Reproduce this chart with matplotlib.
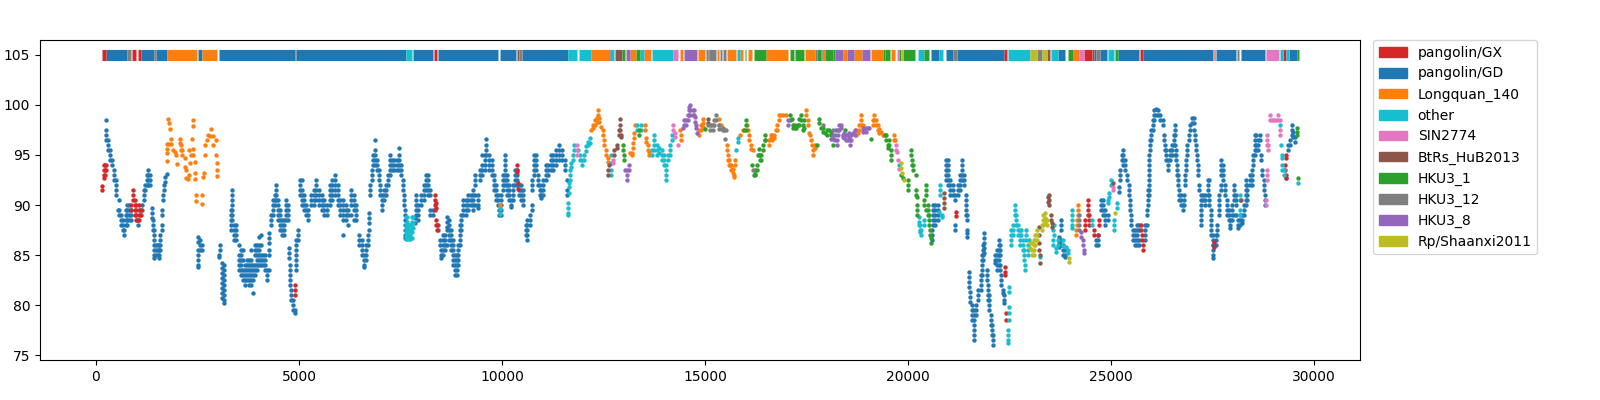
import matplotlib

matplotlib.use("Agg")

import matplotlib.pyplot as plt
from matplotlib.patches import Patch

# identity, one entry per position: (position, [percent, ...])
gd_columns = [
    (254, [98.5, 97.5, 97, 96.5]), (304, [96.5, 96, 95.5]), (345, [95.5, 95, 94.5]), (393, [94.5, 94]),
    (442, [93.5, 93, 92.5]), (491, [92.5, 92, 91.5, 91]), (540, [89.5]), (573, [90.5, 89.5, 89]),
    (614, [89, 88.5, 88]), (655, [88.5, 88, 87.5]), (696, [87.5, 87]), (737, [89.5, 89, 88.5, 88]),
    (777, [90, 89.5, 89, 88.5, 88]), (819, [90, 89.5, 89, 88.5]), (860, [89.5, 89, 88.5]), (1000, [88.5]),
    (1024, [88.5, 88]), (1081, [89, 89.5]), (1130, [90, 89.5]), (1180, [91.5, 91, 90.5]), (1212, [92, 91.5]),
    (1253, [93, 92.5, 92]), (1286, [93.5, 93, 92.5, 92]), (1327, [93, 92.5, 92]), (1376, [89.7, 89.2, 88.7]),
    (1401, [88.5, 88, 87.5]), (1426, [87.5, 87, 86.5]), (1442, [86, 85.5, 85, 84.7]), (1491, [86, 85.5, 85]),
    (1524, [86, 85.5, 85]), (1557, [86, 85.5, 85, 84.7]), (1590, [87, 86.5, 86, 85.5]), (1615, [89.5, 89, 88, 87.5]),
    (1640, [91, 90.5]), (1672, [92, 91.5]), (1705, [92.8, 92.3]), (1738, [93.1]),
    (2510, [86.8, 86.3, 85.5, 85, 84.5, 84, 83.8]), (2560, [86.5, 86, 85.5]), (2616, [86, 85.5]),
    (3049, [86, 85.5]), (3024, [85, 84.8]), (3100, [84.2, 83.7, 83.2, 82.7, 82.2, 81.7, 81.2, 80.7]),
    (3150, [84, 83.5, 83, 82.5, 82, 81.5, 81, 80.5, 80.2]), (3314, [89.5, 89, 88.5, 88, 87.5]),
    (3347, [91.5, 91, 90.5, 90, 89.5, 89, 88.5]), (3388, [88, 87.5, 87, 86.5]), (3445, [88, 87.5, 87, 86.5]),
    (3519, [86, 85, 84.5, 84, 83.5]), (3568, [85.5, 85, 84.5, 84, 83.5, 83]), (3618, [85.5, 84.5, 83.5, 83, 82.5]),
    (3667, [84, 83.5, 83, 82.5, 82]), (3717, [84.5, 84, 83.5, 83, 82.5]), (3774, [84.5, 84, 83.5, 83, 82.5, 82]),
    (3823, [85.5, 84.5, 84, 83.5, 83, 82.5, 82]), (3872, [84, 83.5, 83, 82.5, 81.2]), (3921, [86, 85.5, 85, 84, 83.5, 83]),
    (3970, [86, 85.5, 85, 84.5, 84, 83.5]), (4020, [86.8, 86, 85.5, 85, 84.5, 84]), (4069, [87, 86, 85, 84.5, 84]),
    (4118, [85, 84.5, 84]), (4167, [85, 84.5, 84, 83.5]), (4216, [83.5, 83, 82.5]), (4265, [87.2, 86.7, 86.2, 85.5, 85, 83.5]),
    (4322, [89, 88.5, 88]), (4363, [90.5, 90, 89.5, 89]), (4404, [91, 90.5, 90]), (4437, [92, 91.5, 91, 90.5]),
    (4478, [90.5, 90, 89.5, 89, 88.5]), (4527, [89.5, 89, 88.5, 88, 87.5]), (4576, [88.5, 88, 87.5, 87]),
    (4626, [88.5, 88, 87.5, 87]), (4675, [90.5, 90, 89.5, 89, 88.5]), (4724, [90, 89.5, 89, 88.5]),
    (4757, [85.7, 85.2, 84.7]), (4781, [84, 83.5, 83, 82.5, 82]), (4814, [81.5, 81, 80.5]), (4855, [80.5, 80, 79.5]),
    (4896, [79.5, 79.2]), (4937, [83.5, 84, 84.5, 85, 85.5, 86, 86.5]), (4978, [87.5, 87, 86.5]),
    (5036, [92.5, 92, 91.5, 91]), (5085, [92.5, 91.5, 91, 90.5, 90]), (5126, [91, 90.5, 90, 89.5]), (5183, [90, 89.5, 89]),
    (5233, [89.5, 89, 88.5]), (5307, [91, 90.5, 90]), (5365, [91.5, 91, 90.5, 90]), (5431, [92.5, 92, 91.5, 91, 90.5]),
    (5496, [91.5, 91, 90.5, 90]), (5562, [91, 90.5, 90, 89.5]), (5628, [90.5, 90, 89.5, 89]), (5693, [90, 89.5, 89]),
    (5759, [92, 91.5, 91, 90.5, 90]), (5824, [92.5, 92, 91.5, 91, 90.5]), (5890, [93, 92.5, 92, 91.5, 91]),
    (5955, [92, 91.5, 91, 90.5, 90]), (6021, [90.5, 90, 89.5, 89]), (6086, [90.5, 90, 89.5, 89, 88.5, 87]),
    (6152, [90, 89.5, 89, 88.5]), (6217, [89.5, 89, 88]), (6283, [91.5, 91, 90.5, 90, 89]), (6348, [91, 90.5, 90, 89.5, 88.5]),
    (6414, [90, 89.5, 89, 88.5]), (6479, [87, 86.5, 86]), (6545, [86.5, 86, 85.5, 85]), (6594, [85, 84.5, 84, 83.8]),
    (6660, [86, 85.5, 85, 84.5]), (6700, [87, 86.5, 86]), (6725, [89.2, 88.7, 88.2, 87.5]), (6757, [92, 91.5, 91]),
    (6790, [93.5, 93, 92.5]), (6823, [95, 94.5, 94]), (6872, [96.5, 95.5, 95, 94.5, 94]), (6921, [94.5, 94, 93.5]),
    (6970, [93.5, 93, 92.5]), (7003, [92, 91.5, 91]), (7044, [91, 90.5, 90, 89.5]), (7102, [91.5, 91, 90.5]),
    (7151, [92, 91.5, 91]), (7192, [93, 92.5, 92]), (7233, [95, 94.5, 94, 93.5, 93]), (7290, [94.5, 94, 93.5]),
    (7348, [94.5, 94, 93.5]), (7405, [94.5, 94, 93.5]), (7463, [95.7, 95, 94.5, 94, 93.5]), (7520, [94, 93.5, 93]),
    (7561, [92.5, 92, 91.5]), (7586, [91, 90.5, 90]), (7602, [89.5, 89, 88.5]), (7618, [88, 87.5, 87, 86.7]),
    (7848, [88.7, 88.2]), (7889, [91, 90.5, 90, 89.5, 89]), (7938, [90, 89.5, 89, 88.5]), (8012, [91, 90.5, 90]),
    (8069, [92, 91.5, 91, 90.5]), (8119, [93, 92.5, 92, 91.5]), (8168, [93, 92.5, 92, 91.5, 91]), (8233, [91.5, 91, 89.5, 89]),
    (8299, [89.5, 89]), (8430, [88, 87.5]), (8463, [86.5, 86]), (8496, [85.5, 85, 84.7]), (8545, [87, 86.5, 86, 85.5, 85]),
    (8594, [87, 86.5, 86, 85.5]), (8643, [88.8, 88.3, 87.8, 87.5, 86]), (8693, [88.5, 88, 87.5, 87, 86.5]),
    (8742, [87.5, 87, 86.5, 86, 85.5]), (8791, [86.5, 86, 85.5, 85, 84.5, 84]), (8832, [85, 84.5, 84, 83.5, 83]),
    (8881, [85, 84.5, 84, 83.5, 83]), (8922, [86, 85.5, 85, 84.5, 84]), (8955, [88, 87.5, 87, 86.5, 86]),
    (8988, [89, 88.5, 88, 87.5]), (9037, [90.5, 90, 89.5, 89]), (9103, [90.5, 90, 89.5, 89]), (9168, [91, 90.5, 90, 89.5]),
    (9234, [91, 90.5, 90]), (9283, [91.5, 91, 90.5, 90, 89.5]), (9340, [93, 92.5, 92, 91, 90]), (9398, [91, 90.5, 90, 89.7]),
    (9455, [93.5, 93, 92.5]), (9513, [95, 94, 93.5, 93]), (9570, [95, 94.5, 94, 93.5]), (9611, [96.6, 96, 95.5, 95]),
    (9676, [95, 94.5, 94, 93.5]), (9742, [94.5, 94, 93.5, 93]), (9791, [93, 92.5, 92, 91.5]), (9841, [92, 91.5, 91, 90.5]),
    (9890, [91, 90.5, 90]), (9923, [89.5, 89]), (9980, [91, 90.5, 90, 89.5, 89]), (10021, [93, 92.5, 92, 91.5]),
    (10070, [95, 94.5, 94, 93.5, 93, 92.5, 92]), (10119, [93, 92.5, 92, 91.5, 91]), (10168, [92, 91.5, 91, 90.5]),
    (10226, [90.5, 90, 89.8]), (10275, [92, 91.5, 91, 90.5]), (10324, [93.5, 93, 92.5, 92]), (10365, [93.5, 93, 92.5, 92]),
    (10415, [92, 91.5, 91]), (10464, [92, 91.5, 91, 90.5]), (10513, [91.5, 91, 90.5, 90]), (10579, [87, 87.5, 88]),
    (10620, [88.5, 88, 87.5, 87, 86.5]), (10677, [89, 88.5, 88]), (10726, [90, 89.5]), (10743, [92.5, 92, 91.5]),
    (10776, [95, 94.5, 94, 93.5, 93]), (10825, [95, 94.5, 94, 93.5]), (10874, [93, 92.5, 92]), (10923, [92, 91.5, 91]),
    (10972, [91.5, 91, 90.7]), (11021, [92.5, 92, 91.5, 91]), (11071, [94, 93.5, 93, 92.5]), (11136, [94, 93.5, 93]),
    (11202, [95, 94.5, 94, 93.5]), (11267, [95, 94.5, 94, 93.5]), (11333, [95.5, 95, 94.5, 94]), (11415, [96, 95.5, 95, 94.5]),
    (11481, [95.5, 95, 94.5]), (11546, [94.5, 94, 93.5]), (11595, [92.5, 91.5, 91]),
    (20577, [87.5, 87, 86.5]), (20618, [90, 89.5, 89, 88.5, 88]), (20668, [90, 89.5, 89, 88.5, 88]), (20725, [90, 89.5, 89, 88.5]),
    (20930, [94.5, 94, 93.5, 93, 92.5]), (20971, [94.5, 94, 93.5, 93, 92.5, 92]), (21028, [92.5, 92, 91.5, 91]),
    (21094, [92, 91.5, 91]), (21143, [91, 90.5, 88, 87.5]), (21217, [92, 91.5, 91]), (21274, [93, 92.5, 92, 91.5]),
    (21332, [94.5, 94, 93.5, 93, 92.5]), (21381, [93, 92.5, 92]), (21422, [91, 90.5, 90, 89.5, 89]), (21447, [89, 88.5]),
    (21455, [87.5, 87.2, 86.8]), (21488, [83.3, 82.8, 82.3, 81.8]), (21520, [81.3, 80.8, 80.3]), (21570, [80, 79.5, 79, 78.5]),
    (21611, [79.5, 79, 78.5, 78, 77.5, 77, 76.5]), (21668, [80, 79.5, 79]), (21717, [81.5, 81, 80.5]), (21791, [83, 82.5, 82, 81.5]),
    (21816, [85, 84.5, 84, 83.5, 83]), (21849, [86, 85.5, 85, 84.5]), (21873, [87.2, 86.7, 86.2, 85.7, 85.2]),
    (21930, [83.5, 83, 82.5]), (21963, [82, 81.5, 81, 80.5]), (21996, [81, 80.5, 80, 79.5]), (22037, [79, 78.5, 78]),
    (22062, [78, 77.5, 77]), (22086, [77, 76.5, 76]), (22144, [85, 84.5, 84.2]), (22185, [85.5, 85, 84.5, 84, 83.5]),
    (22226, [86.5, 86, 85.5, 85, 84.5, 84]), (22267, [86, 85.5, 85, 84, 83.5]), (22291, [83, 82.5, 82]), (22324, [81.5, 81.2]),
    (22373, [81, 80.5, 80.2]), (23723, [86.8, 86.3, 85.8]), (23764, [88.5, 88, 87.5, 86.5, 86]), (23805, [86, 85.5, 85]),
    (23862, [85.5, 85, 84.8]), (24625, [86.5, 86]), (24666, [87, 86.5, 86]), (24748, [90.5, 90, 89.5]), (24805, [90.5, 90, 89.5, 89]),
    (24855, [89.5, 89, 88.5, 88]), (24912, [89, 88.5]), (25183, [91.8, 91.3]), (25215, [93.5, 93, 92.5]), (25265, [95, 94.5]),
    (25297, [95.5, 95, 94.5, 94]), (25347, [94.5, 94, 93.5]), (25396, [93, 92.5]), (25429, [92, 91.5, 91]), (25461, [90.5, 90, 89.5]),
    (25494, [89, 88.5, 88]), (25527, [87.5, 87, 86.5]), (25576, [87.5, 87, 86.5, 86]), (25625, [88, 87.5, 87, 86.5, 86]),
    (25691, [88, 87.5, 86.5, 86]), (25822, [88, 87.5, 87, 86.5]), (25871, [89.5, 89, 88]), (25896, [91.5, 91, 90.5, 90]),
    (25920, [93, 92.5, 92, 91.5, 91]), (25937, [95, 94.5, 94, 93.5]), (25953, [96.5, 96, 95.5]), (25986, [97.5, 97, 96.5]),
    (26019, [98.5, 98, 97.5]), (26060, [99.5, 99, 98.5]), (26101, [99.6, 99]), (26150, [99.5, 99]), (26199, [99, 98.5]),
    (26265, [98.5, 98]), (26290, [97, 96.5]), (26323, [96, 95.5]), (26347, [95.5, 95, 94.5]), (26388, [94.5, 94, 93.5]),
    (26446, [95.5, 95, 94.5]), (26495, [96, 95.5, 95]), (26536, [97, 96.5, 96]), (26560, [98, 97.5, 97, 96, 95]),
    (26593, [95.5, 95, 94.5]), (26617, [94, 93.5, 93]), (26642, [93, 92.5, 92]), (26675, [91.5, 91, 90.5]), (26716, [91, 90.5, 90]),
    (26757, [90, 89.5]), (26798, [91, 90.5, 90]), (26823, [93, 92.5, 92]), (26847, [94.5, 94, 93.5]), (26872, [96, 95.5, 95]),
    (26905, [97, 96.5]), (26938, [98, 97.5]), (26987, [98.7, 98.2]), (27036, [98.7, 98.2, 97.5]), (27060, [97, 96.5]),
    (27085, [96, 95.5]), (27110, [95, 94.5]), (27142, [94, 93.5, 93]), (27167, [92, 91.5]), (27200, [91, 90.5, 90, 89.5]),
    (27224, [89, 88.5, 88]), (27265, [91, 90.5]), (27315, [91, 90.5, 90]), (27372, [92.5, 92, 91.5, 91]), (27413, [92.5, 91, 90.5, 90]),
    (27446, [89.5, 89, 88.5]), (27470, [88, 87.5, 87]), (27495, [87, 86.5, 86]), (27519, [86, 85.5, 85, 84.7]), (27577, [87, 86.5, 86]),
    (27610, [88, 87.5, 87]), (27643, [90, 89.5, 89]), (27667, [91, 90.5]), (27692, [92, 91.5]), (27716, [94.5, 94, 93.5, 93]),
    (27757, [94, 93.5, 93, 92.5]), (27807, [92, 91.5, 91]), (27848, [90.5, 90, 89.5, 89]), (27889, [89.5, 89, 88.5]),
    (27938, [88.5, 88, 87.7]), (27987, [90, 89.5, 89, 88.5]), (28028, [92, 91.5, 91, 90.5, 89]), (28069, [91, 90.5, 90, 89]),
    (28118, [88.5, 88, 87.7]), (28167, [89, 88.5, 88]), (28233, [89, 88.5, 88.2]), (28274, [90, 89.5, 89]),
    (28315, [92.5, 92, 91.5, 91, 90.5, 90]), (28356, [92, 91.5, 91, 90.5]), (28414, [93, 92.5, 92]), (28463, [93.5, 93, 92.5, 92]),
    (28504, [95, 94.5, 94]), (28545, [97, 96.5, 96, 95.5, 95]), (28577, [97, 96, 95.5]), (28627, [96.5, 96, 95.5]), (28660, [97, 96.5]),
    (28684, [95, 94.5]), (28725, [93.5, 93]), (28758, [92.5, 92, 91.5]), (28782, [91, 90.5, 90]), (29315, [92.7]),
    (29365, [96, 95.5]), (29397, [96.5, 96]), (29447, [98, 97.5, 97]), (29479, [97.3, 96.8]), (29529, [96.8, 96.3]),
]
gx_columns = [
    (138, [91.9, 91.5]), (190, [94, 93.5, 93, 92.7]), (215, [94, 93.5, 93]), (240, [94, 93.5]),
    (917, [91.5, 91, 90.5]), (876, [90, 89.5]), (958, [90.5, 90, 89.5, 89]), (999, [90, 89.5, 89, 88.5]),
    (1056, [90, 89.5, 89, 88.5]), (1106, [89.5, 89]), (4910, [82, 81.5, 81]), (8348, [91, 90.5, 90, 89.5]),
    (8365, [90.2, 89.7]), (8375, [88.5, 88]), (8400, [88, 87.5]), (10362, [94, 93.5]), (10380, [93.3]), (10395, [92.2, 91.6]),
    (21176, [89.3, 88.9]), (22390, [83.8, 83.3, 83]), (22422, [79.2, 78.5]), (24363, [88.5, 88, 87.5]), (24420, [90.5, 90, 89.5, 89]),
    (24461, [89, 88.5, 88]), (24584, [87.5, 87]), (24666, [87]), (24707, [88.5, 88]), (25732, [88, 87.5]), (25748, [87, 86.5]),
    (25789, [86, 85.5]), (27536, [86.3, 85.8]), (29282, [94, 93.5]), (29299, [93, 92.7]), (29315, [95, 94.7]),
]
longquan_columns = [
    (1778, [98.6]), (1803, [98.2]), (1835, [97.6]), (1860, [96.6, 96.1]), (1753, [96.1, 95.6, 95.2, 94.4]), (1800, [96.1]),
    (1901, [95.5]), (1935, [95.3]), (1967, [95]), (2000, [94.1]), (2065, [96.6, 96.2]), (2090, [96, 95.5]), (2131, [95.5, 95]),
    (2188, [94.7, 93.8]), (2213, [93.5, 92.7]), (2260, [92.6]), (2393, [98.5, 97.9, 95.6]), (2377, [96.6]), (2352, [95]),
    (2400, [95]), (2434, [94.3]), (2450, [93.2, 92.6]), (2475, [91, 90.4]), (2623, [91, 90.1]), (2655, [93.2]), (2640, [92.8]),
    (2680, [95]), (2697, [96]), (2740, [96.5]), (2762, [97]), (2836, [97.6]), (2810, [96.9]), (2885, [96.9, 96]), (2951, [96.5, 95]),
    (2984, [94.2, 93.5]), (2992, [92.9]), (2290, [93, 95.5]), (2310, [94.2]), (9947, [90]),
    (12194, [97.5]), (12235, [98, 97.7]), (12284, [98.5, 98]), (12333, [98.7, 98.3]), (12366, [99.5, 99]), (12399, [98.7, 98.3]),
    (12440, [97.8]), (12481, [97.5, 97]), (12522, [96.5, 96]), (12563, [95.5, 95]), (12604, [94.7, 94.3]), (13153, [95.2]),
    (13202, [95.2, 95]), (13235, [96.2, 95.7]), (13243, [97.2, 96.7]), (13268, [98]), (13514, [98, 97.5]), (13547, [96.7, 96.3]),
    (13596, [96, 95.5]), (13629, [95.3, 95]), (14383, [97.5]), (14410, [97, 96.5]), (14862, [97.5, 97]), (14903, [98, 97.5]),
    (14950, [97.8]), (14960, [98.6, 98.2]), (15338, [98.6, 98]), (15395, [98]), (15534, [96, 95.5]), (15575, [95, 94.5]),
    (15600, [94.5, 94]), (15620, [94]), (15641, [94, 93.5]), (15682, [93.6, 93.2]), (15707, [93, 92.8]), (15739, [94.5, 94]),
    (15862, [97]), (15928, [97.5]), (16030, [98]), (16051, [97.5]), (16092, [97, 96.5]), (16133, [96, 95.6]), (16170, [95.5]),
    (16568, [96.5, 96]), (16625, [97, 96.7]), (16660, [97, 96.5]), (16707, [97, 96.7]), (16740, [97.5]), (16764, [98, 97.5]),
    (16814, [99, 98.5]), (16871, [99]), (16928, [99]), (16994, [99]), (17486, [99.5, 99]), (17527, [98.5]), (17540, [98]),
    (17568, [97.2]), (17590, [97]), (17609, [96.5]), (17640, [96]), (17666, [95.5, 95]), (17716, [96, 95.7]), (18720, [97.5, 97]),
    (18757, [97.2]), (18798, [97.5, 98]), (18839, [99, 98.5, 98]), (18880, [98, 97.5]), (19130, [98.5, 98]), (19167, [99, 98.5]),
    (19208, [98.5, 98]), (19250, [98, 97.5]), (19290, [97.6, 97.2]), (19340, [97.3]), (19372, [97]), (19400, [97]),
    (19659, [97, 96.5]), (19684, [96.5]), (24174, [90, 89.5, 89]), (24149, [88.5, 88]), (24133, [87.5, 87]),
]
other_columns = [
    (7627, [88.8, 88, 87.5, 87, 86.6]), (7668, [88.8, 88.3, 87.8, 87.3, 86.8, 86.6]), (7709, [88, 87.5, 87, 86.6]),
    (7741, [88, 87.5, 87, 86.6]), (7774, [88.8, 88.3, 87.8, 87.3, 86.7]), (7807, [88.8, 88.2, 87.7]), (9939, [89.6, 89.1]),
    (11620, [90.2, 89.7, 89.2, 89]), (11645, [92.2, 91.8, 91.2]), (11677, [93.5, 93, 92.5]), (11710, [94.2, 93.8]),
    (11743, [95, 94.5]), (11784, [96, 95.5]), (11866, [95.5]), (11923, [95, 94.5]), (11972, [94.5, 94]), (12021, [95, 94.5]),
    (12071, [95.9, 95.4]), (12120, [96.3, 96]), (12170, [96.7, 96.2]), (12686, [93, 93.5, 94.2, 95]), (13317, [98, 97.5]),
    (13424, [98, 97.5]), (13695, [95.5, 95]), (13752, [97, 96.5, 96, 95.5]), (13818, [96, 95.5, 95]), (13875, [95.7, 95.2]),
    (13941, [95.5, 95, 94.5]), (13998, [95, 94.5, 94]), (14039, [94, 93.5, 93, 92.5]), (14080, [95, 94.5]), (14137, [96, 95.5, 95]),
    (14178, [97, 96.5]), (15764, [95.5]), (15805, [96.7, 96.3]), (19766, [94]), (20258, [88.8, 88.3, 88]), (20290, [88, 87.5, 87.3]),
    (20315, [87.5, 87]), (20381, [88.5, 88]), (20782, [92, 91.5, 91]), (20766, [89.3]), (20831, [89, 88.8]),
    (22477, [79.8, 79.2, 78.5]), (22452, [77.5, 77, 76.5, 76.2]), (22493, [81.8, 81.3]), (22534, [87.5, 87, 86.5, 86]),
    (22575, [88, 87.5, 87]), (22632, [90, 89.5, 89]), (22657, [89, 88.5, 88]), (22714, [88, 87.5, 87]), (22755, [87.5, 87, 86.5, 86]),
    (22780, [87.5, 87]), (22821, [86.5, 86, 85.5]), (22854, [85.5, 85, 84.5]), (22878, [84, 83.5]), (22903, [87.5, 87, 86.5]),
    (22944, [86, 85.5, 85]), (22985, [86.5]), (23247, [84.8]), (23559, [88, 87.5]), (23600, [88, 87]), (23575, [86.5, 86]),
    (23641, [85.7, 85.3]), (23682, [86.5, 86]), (23805, [86.5, 86]), (23928, [85.5, 85.2]), (23887, [85.8]),
    (24035, [89.5, 89, 88.5, 88, 87.7]), (24527, [88.5, 88]), (24994, [92.5, 92]), (24953, [91.2, 90.8]), (24912, [90.5, 90.2]),
    (25133, [90.2, 89.7]), (25076, [88.5, 88, 87.5]), (28167, [91, 90.5, 89.5, 89]), (29152, [98]), (29176, [96]), (29201, [95, 94.7]),
    (29217, [94, 93.5]), (29258, [93.5, 93]), (29611, [92.2]),
]
sin_columns = [
    (11850, [96, 95.5, 95]), (12743, [94.5, 94.2]), (14220, [98, 97.5]), (14269, [97.2, 96.8]), (14343, [96]),
    (19700, [96, 95.5]), (19716, [95.3]), (19741, [94.5]), (19782, [93.6]), (25035, [91.8, 91.5]), (28848, [97, 96.5, 96, 93.5]),
    (28872, [96, 95.5]), (28832, [93, 92.5]), (28807, [90.5]), (28823, [90]), (28905, [99, 98.5]), (28954, [98.5]), (29012, [98.5]),
    (29065, [98.5]), (29119, [99, 98.5]), (29152, [98.5, 97.5, 97]),
]
btrs_columns = [
    (12604, [93.5, 93]), (12645, [94]), (12768, [95.5, 95]), (12825, [96, 95.7]), (12875, [97.5, 97]), (12908, [98.6, 98, 97.5]),
    (12932, [97, 96.8]), (15067, [98.6, 98.2]), (20889, [91.2, 90.7, 90.2, 89.7]), (23231, [87.8, 87, 86.2, 85.5]), (23247, [84.2, 85]),
    (23436, [90.8, 90.3]), (23477, [91, 90.5, 90]), (23518, [89, 88.5]), (23534, [87.8, 88.2]), (25035, [92.2]), (28192, [90.5]),
]
hku1_columns = [
    (12973, [96, 95.5]), (12998, [95, 94.5]), (13383, [97.5, 97]), (15010, [97.6]), (15969, [97.5]), (16010, [98.5, 98, 97.5]),
    (16149, [94]), (16200, [93]), (16240, [93.5, 93.1, 93]), (16281, [94, 93.5]), (16305, [95]), (16322, [95.6, 95]), (16350, [95, 94.5]),
    (16379, [95, 94.5]), (16436, [96, 95.5]), (16470, [96.5]), (16486, [97, 96.5]), (17092, [99, 98.5]), (17130, [98.6]), (17174, [98, 97.7]),
    (17210, [97.7, 98]), (17240, [97.7]), (17280, [98]), (17306, [98.6, 98]), (17363, [99, 98.5]), (17400, [98, 97.5]), (17437, [97.7, 98.5]),
    (17765, [96]), (17814, [98.6, 98.2]), (17855, [97.7]), (17900, [97.7, 97.3]), (17953, [97.2]), (18000, [97.5, 97]), (18060, [97.5]),
    (18100, [97.3, 97]), (18158, [96, 96.6]), (18224, [97.5]), (18445, [97.5]), (19085, [96.6]), (19420, [97]), (19454, [97, 96.5]),
    (19495, [96, 95.7]), (19530, [96.5, 96]), (19577, [95.5, 95, 94.5]), (19823, [93]), (19880, [92.7]), (19987, [92.5, 92, 91.5]),
    (20069, [95.5, 95]), (20085, [94.5, 94]), (20110, [94, 93.5]), (20192, [93, 91.5, 91]), (20208, [90.8]), (20216, [90, 89.5, 89]),
    (20438, [92, 91.5, 91, 89.5]), (20397, [90.5, 90]), (20479, [90, 89.5, 89]), (20503, [89, 88.5, 88]), (20536, [87.5, 87]),
    (20561, [86.7, 86.2]), (29586, [97.7, 97.3, 97]), (29611, [92.7]),
]
hku12_columns = [
    (15080, [98]), (15124, [98, 97.5]), (15150, [98]), (15190, [98, 97.5]), (15230, [98.5, 98]), (15272, [99, 98.5]), (15354, [98, 97.6]),
    (15410, [97.6]), (15436, [97.7, 97.5]), (15470, [97.5]), (15518, [97.5]), (15493, [96.6]), (16190, [93.5]), (17896, [98]),
    (24199, [89, 88.5]), (24215, [88, 87.5]),
]
hku8_columns = [
    (13039, [93.5]), (13072, [92.5, 93, 93.5]), (13121, [94, 93.5]), (14449, [97.7]), (14490, [98.5, 98]), (14531, [98.5, 98]),
    (14572, [99, 98.5]), (14600, [99.8, 99.5, 99]), (14641, [100, 99.5, 99]), (14698, [99.5, 99]), (14739, [99.5, 99]),
    (14755, [98.8, 98.3]), (14780, [98, 97.7]), (14805, [97.2]), (17051, [98.5, 98]), (18101, [96.6]), (18150, [97.5, 97]),
    (18200, [97, 96.5]), (18240, [96, 96.5]), (18280, [97.5, 97]), (18306, [98, 97.5]), (18347, [98, 97.7]), (18388, [97, 96.8]),
    (18420, [97.2, 96.7]), (18470, [97, 96.5]), (18511, [97, 96.5]), (18540, [97.2, 96.8]), (18568, [96, 96.5]), (18600, [97, 96.5]),
    (18634, [97.2]), (18700, [97.5, 97]), (18880, [97.7, 97.3]), (18921, [97.5]), (18960, [97.7, 97.3]), (19003, [97.7]),
    (19044, [97.7]), (24256, [87.3, 86.8]), (24297, [86.5, 86]), (24321, [85.5, 85.2]),
]
rp_columns = [
    (19823, [94.2, 93.7]), (19848, [93.2]), (19889, [92.5]), (23010, [86.2, 85.7]), (23051, [86.2, 85.5, 85]),
    (23092, [86.5, 86, 85.5, 85]), (23133, [87, 86.5, 86]), (23174, [87.5, 87, 86.5]), (23297, [88, 87.5]), (23330, [89, 88.5, 88]),
    (23379, [89.2, 88.7, 88.2]), (23411, [88.5, 88]), (23953, [84.7, 84.3]), (25092, [89.2]),
]

# strip along the top, (start, end) per best-matching source
gx_strip = [(139, 237), (877, 983), (1025, 1115), (8335, 8400), (22372, 22438), (24341, 24530), (25703, 25777), (27524, 27565), (29239, 29305)]
gd_strip = [
    (237, 770), (1115, 1427), (1468, 1755), (2510, 2616), (3019, 4897), (4938, 7629), (7818, 8294), (8433, 9910),
    (9959, 10353), (10500, 11624), (20566, 20755), (20935, 21116), (21198, 22372), (23685, 23865), (24587, 24628),
    (24735, 24899), (25178, 25695), (25793, 27500), (27582, 28082), (28197, 28796), (29370, 29567),
]
longquan_strip = [
    (1755, 2477), (2616, 2986), (12199, 12625), (13160, 13306), (13487, 13675), (14372, 14454), (14831, 14995), (15291, 15340),
    (15529, 15750), (15849, 15931), (16054, 16160), (16489, 17038), (17449, 17719), (17910, 17950), (18408, 18498), (18679, 18860),
    (19097, 19393), (19573, 19688), (24070, 24201),
]
other_strip = [
    (7629, 7793), (11624, 11846), (11895, 12183), (12650, 12750), (13388, 13487), (13700, 14209), (15775, 15849), (20254, 20385),
    (20771, 20853), (22470, 23004), (23520, 23685), (24915, 25079), (29165, 29230), (29305, 29370),
]
sin_strip = [(14209, 14332), (19721, 19770), (24201, 24325), (28812, 29140)]
btrs_strip = [(10361, 10410), (12633, 12650), (12790, 12948), (15069, 15094), (23430, 23504), (24530, 24587)]
hku1_strip = [
    (12948, 13030), (13306, 13388), (15972, 16013), (16210, 16489), (17079, 17186), (17210, 17424), (17760, 17850), (17870, 17910),
    (17950, 18146), (18146, 18190), (19393, 19426), (19426, 19557), (19770, 19830), (19870, 20180), (20402, 20525), (23931, 24054),
    (25104, 25162), (29567, 29624),
]
hku12_strip = [
    (770, 853), (1427, 1468), (4897, 4938), (10410, 10500), (15028, 15069), (15094, 15274), (15356, 15414), (15438, 15504),
    (17719, 17760), (17850, 17870), (21116, 21198), (23176, 23299), (24628, 24727), (28090, 28140),
]
hku8_strip = [(13060, 13142), (14472, 14799), (18190, 18392), (18392, 18408), (18498, 18663), (18868, 19073)]
rp_strip = [(19830, 19870), (23012, 23168), (23299, 23422)]

sources = [
    ("pangolin/GX", "tab:red", gx_columns, gx_strip),
    ("pangolin/GD", "tab:blue", gd_columns, gd_strip),
    ("Longquan_140", "tab:orange", longquan_columns, longquan_strip),
    ("other", "tab:cyan", other_columns, other_strip),
    ("SIN2774", "tab:pink", sin_columns, sin_strip),
    ("BtRs_HuB2013", "tab:brown", btrs_columns, btrs_strip),
    ("HKU3_1", "tab:green", hku1_columns, hku1_strip),
    ("HKU3_12", "tab:gray", hku12_columns, hku12_strip),
    ("HKU3_8", "tab:purple", hku8_columns, hku8_strip),
    ("Rp/Shaanxi2011", "tab:olive", rp_columns, rp_strip),
]

fig, ax = plt.subplots(figsize=(16, 4), dpi=100)
fig.subplots_adjust(left=0.025, right=0.85, top=0.9, bottom=0.1)

# blue first so the other sources sit on top of it
draw_order = [1, 0, 2, 3, 4, 5, 6, 7, 8, 9]
for index in draw_order:
    name, color, columns, strip = sources[index]
    xs = [x for x, values in columns for _ in values]
    ys = [y for _, values in columns for y in values]
    ax.scatter(xs, ys, s=10, color=color, linewidths=0)
    for start, end in strip:
        ax.hlines(105, start, end, color=color, linewidth=8, capstyle="butt")

ax.set_xlim(-1377, 31127)
ax.set_ylim(74.55, 106.45)

handles = [Patch(color=color, label=name) for name, color, _, _ in sources]
ax.legend(handles=handles, loc="upper left", bbox_to_anchor=(1.01, 1.0), borderaxespad=0)

fig.savefig("out.png", dpi=100)
plt.close(fig)
